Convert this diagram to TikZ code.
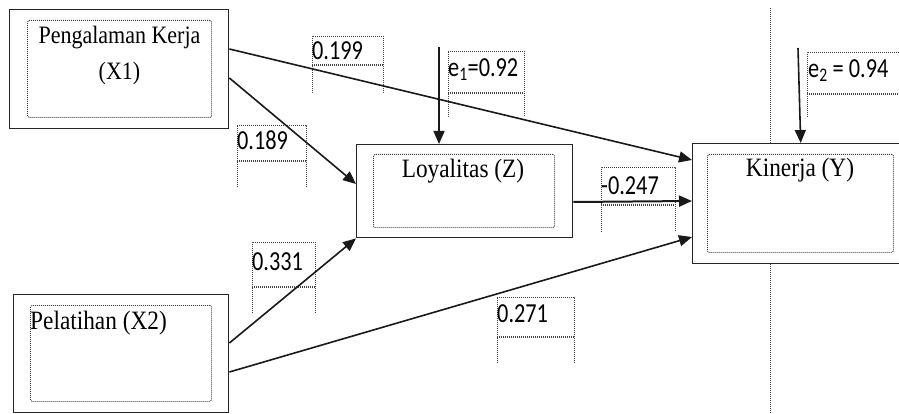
\documentclass[tikz,border=0pt]{standalone}
\usepackage{fontspec}
\setmainfont{Liberation Serif}[FakeStretch=0.88]
\newfontfamily\calib{Carlito}[FakeStretch=0.81]
\usetikzlibrary{arrows.meta,calc}
\begin{document}
\begin{tikzpicture}[x=1pt,y=-1pt,
 box/.style={draw=black!85,line width=1.4pt,fill=white,rectangle,inner sep=0pt,anchor=north west},
 inbox/.style={draw=black!75,line width=0.9pt,dash pattern=on 1pt off 1pt,rectangle,inner sep=0pt,anchor=north west,rounded corners=1.5pt},
 vtxt/.style={font=\fontsize{26.5}{30}\selectfont,inner sep=0pt,anchor=base},
 num/.style={font=\calib\fontsize{27.5}{30}\selectfont,inner sep=0pt,anchor=base west},
 lbl/.style={draw=black!75,line width=0.9pt,dash pattern=on 1pt off 1pt},
 lblmid/.style={draw=black!75,line width=1.6pt,dash pattern=on 1pt off 1pt},
 arr/.style={draw=black!90,line width=1.6pt,-{Triangle[length=13pt,width=11pt]}}]
\useasboundingbox (0,0) rectangle (899,414);
\clip (0,0) rectangle (899,414);

% vertical dotted line
\draw[lbl] (770,8) -- (770,414);

% label frames
\foreach \a/\b/\t/\m/\u in {237/306/125/161/187, 312/383/36/65/93, 448/524/51/93/117, 252/315/242/287/313, 497/574/297/337/363, 601/675/167/205/232, 807/910/52/94/117}{
  \draw[lbl] (\a,\u) -- (\a,\t) -- (\b,\t) -- (\b,\u);
  \draw[lblmid] (\a,\m) -- (\b,\m);
}

% boxes
\node[box,minimum width=219pt,minimum height=119pt] (X1) at (9,9) {};
\node[inbox,minimum width=184pt,minimum height=97pt] (X1i) at (27,20) {};
\node[vtxt,font=\fontsize{25}{30}\selectfont] (X1a) at (119.5,44) {Pengalaman Kerja};
\node[vtxt,font=\fontsize{25}{30}\selectfont] (X1b) at (119.5,80) {(X1)};

\node[box,minimum width=215pt,minimum height=118pt] (X2) at (13,294) {};
\node[inbox,minimum width=181pt,minimum height=96pt] (X2i) at (30,305) {};
\node[vtxt,anchor=base west] (X2a) at (30,329) {Pelatihan (X2)};

\node[box,minimum width=216pt,minimum height=93pt] (Z) at (356,144) {};
\node[inbox,minimum width=181pt,minimum height=73pt] (Zi) at (373,154) {};
\node[vtxt] (Za) at (463,178) {Loyalitas (Z)};

\node[box,minimum width=214pt,minimum height=120pt] (Y) at (692,143) {};
\node[inbox,minimum width=186pt,minimum height=98pt] (Yi) at (707,154) {};
\node[vtxt] (Ya) at (800,177) {Kinerja (Y)};

% numbers
\node[num] (n199) at (312,60) {0.199};
\node[num] (n189) at (237,150) {0.189};
\node[num] (ne1) at (448,77) {e\textsubscript{1}=0.92};
\node[num] (n331) at (252,270) {0.331};
\node[num] (n271) at (497,322) {0.271};
\node[num] (n247) at (601,195) {-0.247};
\node[num] (ne2) at (808,78) {e\textsubscript{2} = 0.94};

% arrows
\coordinate (e1s) at (439,47);
\coordinate (e2s) at (798,48);
\draw[arr] ([yshift=-40pt]X1.north east) -- ([yshift=-17pt]Y.north west);
\draw[arr] ([yshift=-69pt]X1.north east) -- ([yshift=-40pt]Z.north west);
\draw[arr] ([yshift=-49pt]X2.north east) -- (Z.south west);
\draw[arr] ([yshift=-78pt]X2.north east) -- ([yshift=-94pt]Y.north west);
\draw[arr,line width=2pt] ([yshift=-58pt]Z.north east) -- ([yshift=-58pt]Y.north west);
\draw[arr] (e1s) -- (Z.north -| e1s);
\draw[arr] (e2s) -- ([xshift=1pt]Y.north);
\end{tikzpicture}
\end{document}
